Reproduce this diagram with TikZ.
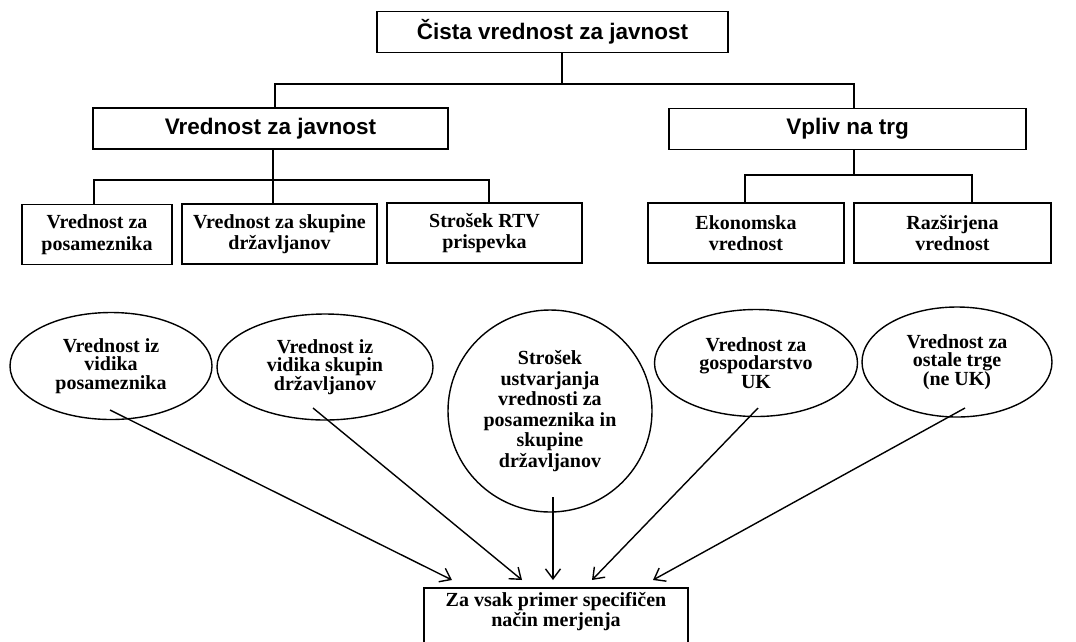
\documentclass[tikz,border=0pt]{standalone}
\usepackage{fontspec}
\usetikzlibrary{shapes.geometric,arrows.meta}
\newfontfamily\headfont{Liberation Sans}
\newfontfamily\lowfont{Liberation Serif}
\begin{document}
\begin{tikzpicture}[x=1pt,y=-1pt,
  line width=1.5pt,
  headbox/.style={draw, rectangle, inner sep=0pt, minimum height=41pt,
    font=\headfont\bfseries\fontsize{22.5}{26}\selectfont},
  subbox/.style={draw, rectangle, inner sep=0pt, minimum height=60pt,
    align=center, font=\lowfont\bfseries\fontsize{20}{21.5}\selectfont},
  oval/.style={draw, ellipse, inner sep=0pt, line width=1.4pt,
    align=center, font=\lowfont\bfseries\fontsize{20}{18.5}\selectfont},
  feed/.style={line width=1.4pt, -{Straight Barb[length=10pt,width=15pt,line width=1.4pt]}}]
\useasboundingbox (0,0) rectangle (1076,641);
\clip (0,0) rectangle (1076,641);

% top level
\node[headbox, minimum width=351pt] (top) at (552.5,32) {Čista vrednost za javnost};
\node[headbox, minimum width=355pt] (vj) at (270.5,128.5) {Vrednost za javnost};
\node[headbox, minimum width=357pt] (vt) at (847.5,129) {Vpliv na trg};

% second level boxes
\node[subbox, minimum width=150pt] (c1) at (97,234.5) {Vrednost za\\posameznika};
\node[subbox, minimum width=195pt] (c2) at (279.5,234) {Vrednost za skupine\\državljanov};
\node[subbox, minimum width=195pt] (c3) at (484.5,233) {Strošek RTV\\prispevka};
\node[subbox, minimum width=196pt] (c4) at (746,233) {Ekonomska\\vrednost};
\node[subbox, minimum width=197pt] (c5) at (952.5,233) {Razširjena\\vrednost};

% tree connectors
\coordinate (j0) at (562,84);
\coordinate (j1) at (273,180);
\coordinate (j2) at (854,175);
\draw ([xshift=9.5pt]top.south) -- (j0);
\draw ([xshift=4.5pt]vj.north) |- (j0) -| ([xshift=6.5pt]vt.north);
\draw ([xshift=2.5pt]vj.south) -- (j1);
\draw ([xshift=-3pt]c1.north) |- (j1) -| ([xshift=4.5pt]c3.north);
\draw (j1) -- (j1 |- c2.north);
\draw ([xshift=6.5pt]vt.south) -- (j2);
\draw ([xshift=-1pt]c4.north) |- (j2) -| ([xshift=19.5pt]c5.north);

% measurement ovals
\node[oval, minimum width=202pt, minimum height=107pt] (e1) at (111,366) {Vrednost iz\\vidika\\posameznika};
\node[oval, minimum width=216pt, minimum height=106pt] (e2) at (325,367) {Vrednost iz\\vidika skupin\\državljanov};
\node[oval, minimum width=204pt, minimum height=202pt, font=\lowfont\bfseries\fontsize{20}{20.5}\selectfont] (e3) at (550,411) {Strošek\\ustvarjanja\\vrednosti za\\posameznika in\\skupine\\državljanov};
\node[oval, minimum width=203pt, minimum height=107pt] (e4) at (756,363) {Vrednost za\\gospodarstvo\\UK};
\node[oval, minimum width=190pt, minimum height=110pt] (e5) at (957,362) {Vrednost za\\ostale trge\\(ne UK)};

% common result
\node[draw, rectangle, anchor=north, inner xsep=0pt, inner ysep=5pt,
  minimum width=264pt, text depth=36pt, align=center,
  font=\lowfont\bfseries\fontsize{20}{20}\selectfont] (meas) at (556,587)
  {Za vsak primer specifičen\\način merjenja};

% arrows into the result box
\coordinate (s1) at (110,410);
\coordinate (s2) at (313,408);
\coordinate (s3) at (553,497);
\coordinate (s4) at (758,408);
\coordinate (s5) at (965,408);
\draw[feed] (s1) -- ([xshift=-104pt,yshift=7pt]meas.north);
\draw[feed] (s2) -- ([xshift=-34pt,yshift=7pt]meas.north);
\draw[feed] (s3) -- ([xshift=-3pt,yshift=7pt]meas.north);
\draw[feed] (s4) -- ([xshift=36pt,yshift=7pt]meas.north);
\draw[feed] (s5) -- ([xshift=97pt,yshift=7pt]meas.north);
\end{tikzpicture}
\end{document}
